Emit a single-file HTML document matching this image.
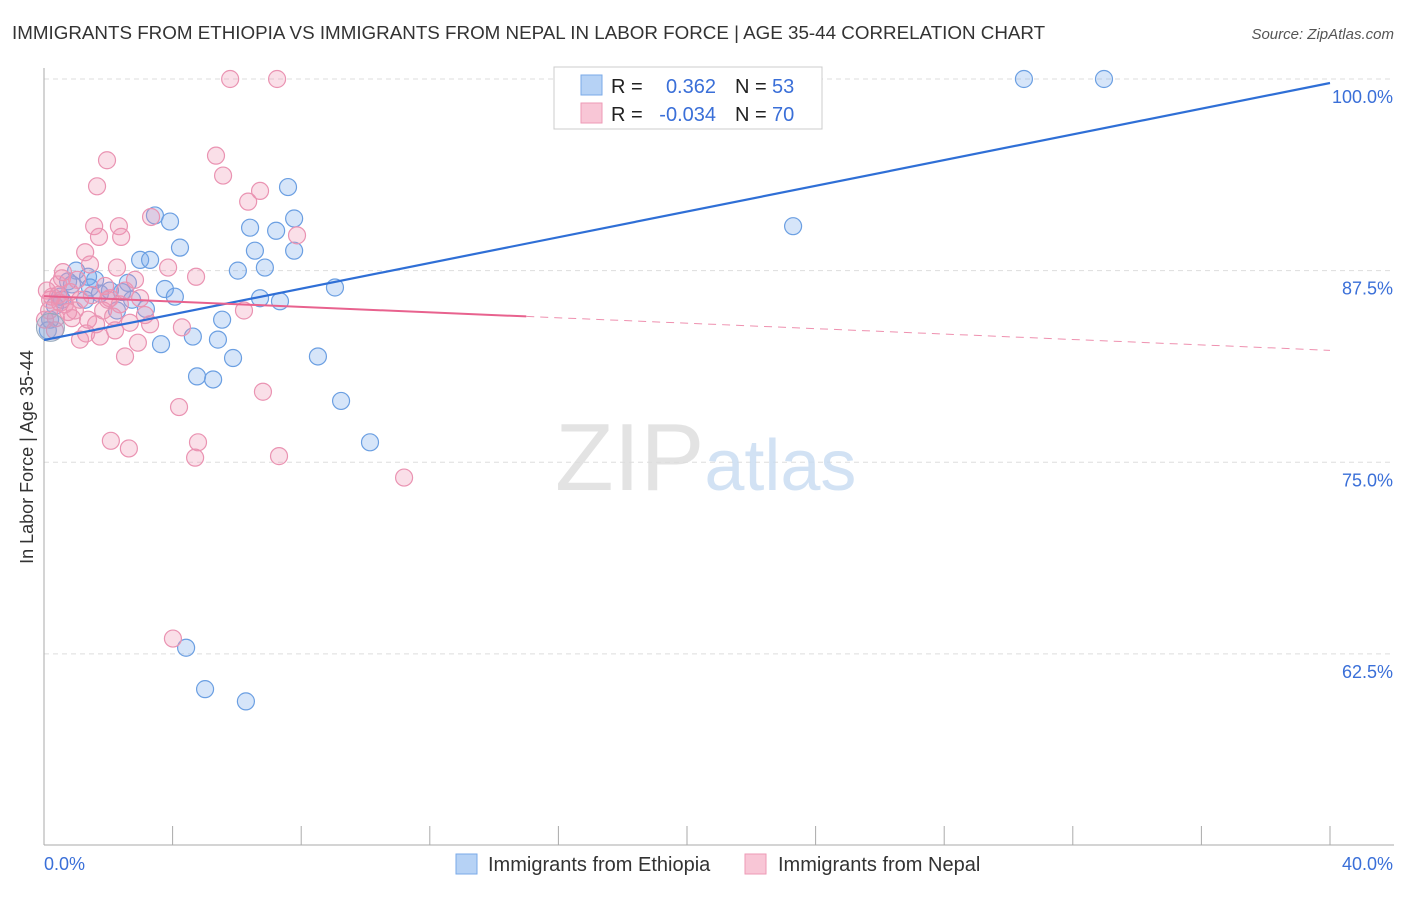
<!DOCTYPE html>
<html><head><meta charset="utf-8"><style>
body{margin:0;background:#fff;font-family:"Liberation Sans",sans-serif}
svg text{font-family:"Liberation Sans",sans-serif}
</style></head><body>
<svg id="chart" width="1406" height="892" viewBox="0 0 1406 892" xmlns="http://www.w3.org/2000/svg">
<text x="12" y="39" font-size="18.8" fill="#333">IMMIGRANTS FROM ETHIOPIA VS IMMIGRANTS FROM NEPAL IN LABOR FORCE | AGE 35-44 CORRELATION CHART</text>
<text x="1394" y="39" font-size="15" fill="#555" text-anchor="end" font-style="italic">Source: ZipAtlas.com</text>
<g id="grid"></g>
<text x="555" y="490" font-size="96" fill="#ddd" font-family="Liberation Serif" opacity="0.8">ZIP<tspan fill="#c8dcf2" font-family="Liberation Sans" font-size="72">atlas</tspan></text>
<line x1="44" y1="68" x2="44" y2="845" stroke="#aaa"/>
<line x1="44" y1="845" x2="1394" y2="845" stroke="#aaa"/>
<text transform="translate(33,457) rotate(-90)" font-size="18" fill="#333" text-anchor="middle">In Labor Force | Age 35-44</text>
<g id="ticks"></g>
<g id="points"></g>
<g id="trends"></g>
<g>
<rect x="554" y="67" width="268" height="62" fill="#fff" stroke="#ccc"/>
<rect x="581" y="75" width="21" height="20" fill="#b6d2f5" stroke="#7aaae8"/>
<rect x="581" y="103" width="21" height="20" fill="#f8c6d6" stroke="#ee9ab6"/>
<text x="611" y="93" font-size="20" fill="#222">R =</text>
<text x="716" y="93" font-size="20" fill="#3a6fd8" text-anchor="end">0.362</text>
<text x="735" y="93" font-size="20" fill="#222">N =</text>
<text x="772" y="93" font-size="20" fill="#3a6fd8">53</text>
<text x="611" y="121" font-size="20" fill="#222">R =</text>
<text x="716" y="121" font-size="20" fill="#3a6fd8" text-anchor="end">-0.034</text>
<text x="735" y="121" font-size="20" fill="#222">N =</text>
<text x="772" y="121" font-size="20" fill="#3a6fd8">70</text>
</g>
<g>
<rect x="456" y="854" width="21" height="20" fill="#b6d2f5" stroke="#7aaae8"/>
<text x="488" y="871" font-size="20" fill="#333">Immigrants from Ethiopia</text>
<rect x="745" y="854" width="21" height="20" fill="#f8c6d6" stroke="#ee9ab6"/>
<text x="778" y="871" font-size="20" fill="#333">Immigrants from Nepal</text>
</g>
</svg>
<script>
const yTicks=[100,87.5,75,62.5];
const yTickLabels=["100.0%","87.5%","75.0%","62.5%"];
const xTicks=[0,4,8,12,16,20,24,28,32,36,40];
const xEndLabels=["0.0%","40.0%"];
const ethX=[30.48,32.97,23.30,7.59,7.78,3.45,3.92,4.23,6.41,7.22,6.56,7.78,6.03,6.87,2.99,3.30,9.05,6.72,7.34,3.76,4.07,2.61,2.43,2.74,2.27,3.17,1.59,1.37,1.0,0.75,1.43,1.74,0.56,0.34,0.19,5.54,4.63,5.41,3.64,5.88,8.52,4.76,5.26,9.24,10.14,4.42,5.01,6.28,0.5,0.12,2.05,1.28,0.87];
const ethY=[100,100,90.4,92.95,90.9,91.1,90.7,89.0,90.3,90.1,88.8,88.8,87.5,87.7,88.2,88.2,86.4,85.7,85.5,86.3,85.8,86.7,86.1,85.6,84.9,85.0,86.9,87.1,87.5,86.8,86.4,86.0,85.6,85.2,84.3,84.3,83.2,83.0,82.7,81.8,81.9,80.6,80.4,79.0,76.3,62.9,60.2,59.4,85.8,83.6,86.2,85.6,86.6];
const nepX=[5.79,7.25,1.96,5.35,1.65,5.57,6.72,6.35,3.33,1.56,2.33,1.71,2.40,7.87,1.28,3.86,4.73,2.27,0.59,1.43,0.44,1.03,0.81,0.25,0.5,0.16,0.37,0.87,0.65,1.12,1.49,2.05,2.52,2.99,1.84,2.15,2.67,3.14,1.31,1.74,1.12,1.62,2.21,2.92,2.52,4.29,6.22,4.20,6.81,2.08,4.79,2.64,4.70,7.31,11.2,4.01,0.03,0.19,0.09,0.56,0.96,1.90,1.37,0.34,2.36,2.83,3.30,1.99,0.75,0.44];
const nepY=[100,100,94.7,95.0,93.0,93.7,92.7,92.0,91.0,90.4,90.4,89.7,89.7,89.8,88.7,87.7,87.1,87.7,87.4,87.9,86.6,86.9,86.1,85.8,85.4,84.9,84.4,84.4,85.3,85.6,85.9,85.7,86.2,85.7,84.9,84.5,84.1,84.6,83.4,83.2,83.0,84.0,83.6,82.8,81.9,83.8,84.9,78.6,79.6,76.4,76.3,75.9,75.3,75.4,74.0,63.5,84.3,85.6,86.2,87.0,84.9,86.5,84.3,83.6,85.3,86.9,84.0,85.6,84.8,85.9];
const ethTrend=[82.97,99.74];
const nepTrend=[85.84,82.3];
const nepSolidEnd=15;

const NS="http://www.w3.org/2000/svg";
const X=v=>44+v*32.15;
const Y=v=>79+(100-v)*15.33;
function mk(tag,attrs,parent){const e=document.createElementNS(NS,tag);for(const k in attrs)e.setAttribute(k,attrs[k]);parent.appendChild(e);return e;}
const grid=document.getElementById('grid'),ticks=document.getElementById('ticks'),pts=document.getElementById('points'),tr=document.getElementById('trends');
yTicks.forEach((v,i)=>{
  const l=mk('line',{x1:44,x2:1394,y1:Y(v),y2:Y(v),stroke:'#ddd','stroke-dasharray':'5,4'},grid);
  
  
  const t=mk('text',{x:1393,y:Y(v)+24,'font-size':18,fill:'#3a6fd8','text-anchor':'end'},ticks);
  t.textContent=yTickLabels[i];
  
  
});
xTicks.forEach(v=>{
  const l=mk('line',{x1:X(v),x2:X(v),y1:826,y2:845,stroke:'#aaa'},ticks);
  
  
});
[[0,'start',44],[40,'end',1393]].forEach((d,i)=>{
  const t=mk('text',{x:d[2],y:870,'font-size':18,fill:'#3a6fd8','text-anchor':d[1]},ticks);
  t.textContent=xEndLabels[i];
  
  
});
function drawPts(xs,ys,fill,stroke,name){
  xs.forEach((x,i)=>{
    const c=mk('circle',{cx:X(x),cy:Y(ys[i]),r:8.5,fill:fill,stroke:stroke,'stroke-width':1.2},pts);
    
    
  });
}
drawPts(ethX,ethY,'rgba(120,170,235,0.3)','#6b9fe2','ethiopia-point');
drawPts(nepX,nepY,'rgba(240,150,180,0.3)','#ea93b2','nepal-point');
const big=mk('circle',{cx:X(0.2),cy:Y(83.8),r:14,fill:'rgba(150,170,210,0.35)',stroke:'#9ab',"stroke-width":1},pts);


const bl=mk('line',{x1:X(0),y1:Y(ethTrend[0]),x2:X(40),y2:Y(ethTrend[1]),stroke:'#2f6fd6','stroke-width':2.2},tr);


const py=x=>nepTrend[0]+(nepTrend[1]-nepTrend[0])*x/40;
const ps=mk('line',{x1:X(0),y1:Y(py(0)),x2:X(nepSolidEnd),y2:Y(py(nepSolidEnd)),stroke:'#e8628e','stroke-width':2},tr);


const pd=mk('line',{x1:X(nepSolidEnd),y1:Y(py(nepSolidEnd)),x2:X(40),y2:Y(py(40)),stroke:'#e8628e','stroke-width':1,'stroke-dasharray':'8,6',opacity:0.7},tr);


</script>
</body></html>
